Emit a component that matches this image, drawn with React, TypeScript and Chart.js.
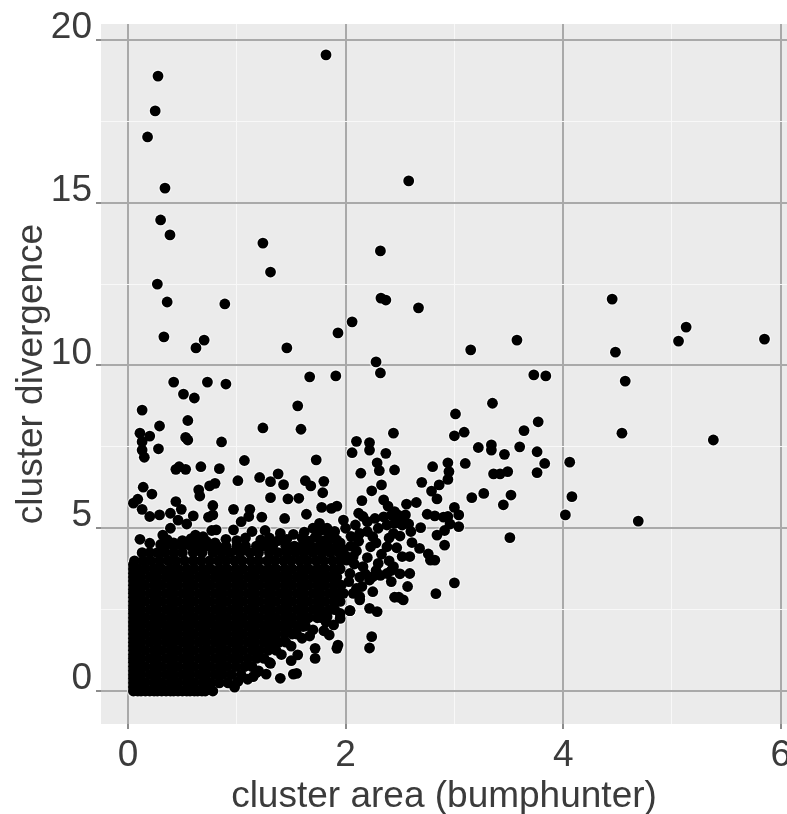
import React, { useEffect, useRef } from "react";
import { Chart, registerables } from "chart.js";

Chart.register(...registerables);

type Pair = [number, number];

const xTickLabels = ["0", "2", "4", "6"];
const yTickLabels = ["0", "5", "10", "15", "20"];
const xTitle = "cluster area (bumphunter)";
const yTitle = "cluster divergence";

// isolated high-divergence clusters
const outlierPoints: Pair[] = [
  [1.82, 19.54], [0.276, 18.89], [0.25, 17.82], [0.18, 17.02], [0.34, 15.45], [2.58, 15.67], [0.3, 14.47],
  [0.386, 14.01], [1.24, 13.76], [2.32, 13.52], [1.31, 12.87], [0.27, 12.5], [0.36, 11.95], [0.89, 11.89],
  [2.325, 12.07], [2.37, 12.01], [2.67, 11.77], [4.45, 12.04], [2.06, 11.34], [1.93, 11.0], [0.33, 10.88],
  [0.7, 10.78], [0.625, 10.54], [1.46, 10.54], [3.15, 10.48], [3.575, 10.78], [4.48, 10.41], [5.06, 10.75],
  [5.13, 11.18], [5.85, 10.81], [2.28, 10.11], [2.32, 9.77], [1.67, 9.65], [1.91, 9.68], [3.73, 9.71],
  [3.84, 9.68], [4.57, 9.52], [0.42, 9.49], [0.73, 9.49], [0.9, 9.43], [0.51, 9.12], [0.61, 9.0],
  [1.56, 8.76], [5.38, 7.71], [4.69, 5.22], [4.54, 7.92],
];

// scattered clusters around the dense cloud, left part
const fringeLeft: Pair[] = [
  [0.13, 8.63], [0.29, 8.14], [0.55, 8.31], [1.24, 8.08], [1.59, 8.04], [0.11, 7.92], [0.2, 7.83], [0.13, 7.66],
  [0.13, 7.4], [0.15, 7.18], [0.28, 7.44], [0.53, 7.79], [0.55, 7.71], [0.86, 7.65], [1.07, 7.08], [1.73, 7.1],
  [0.47, 6.89], [0.44, 6.81], [0.53, 6.81], [0.67, 6.89], [0.84, 6.83], [1.01, 6.46], [1.21, 6.56], [1.38, 6.67],
  [1.31, 6.43], [1.43, 6.34], [1.63, 6.46], [1.68, 6.3], [1.8, 6.44], [1.79, 6.09], [0.8, 6.38], [0.75, 6.3],
  [0.65, 6.18], [0.66, 5.99], [0.14, 6.26], [0.22, 6.05], [0.09, 5.89], [0.05, 5.77], [0.13, 5.58], [0.44, 5.82],
  [0.78, 5.7], [1.31, 5.94], [1.47, 5.9], [1.57, 5.92], [0.97, 5.58], [1.12, 5.58], [1.23, 5.34], [1.44, 5.3],
  [1.64, 5.43], [1.78, 5.64], [1.92, 5.68], [1.87, 5.61], [0.78, 5.41], [0.74, 5.34], [0.2, 5.36], [0.29, 5.41],
  [0.39, 5.46], [0.49, 5.58], [0.6, 5.38], [0.54, 5.13], [0.46, 5.25], [1.04, 5.2], [1.11, 5.36], [0.81, 4.95],
  [0.77, 4.93], [0.97, 4.95], [1.14, 4.9], [1.26, 4.93], [1.4, 4.84], [1.52, 4.81], [0.32, 4.79], [0.39, 5.0],
  [0.62, 4.79], [0.69, 4.74], [0.11, 4.66], [0.2, 4.54], [1.76, 5.15], [1.7, 5.0], [1.83, 5.0], [1.98, 5.25],
  [2.09, 5.1], [2.16, 5.36], [2.12, 5.46], [2.15, 5.85], [2.24, 6.15], [2.33, 6.33], [2.35, 5.87], [2.39, 5.68],
  [2.45, 5.51], [2.44, 7.92], [2.1, 7.67], [2.22, 7.63], [2.22, 7.4], [2.06, 7.32], [2.37, 7.3], [2.29, 7.01],
  [2.31, 6.77], [2.14, 6.69], [2.45, 6.79],
];

// clusters below the cloud's lower right edge
const fringeLower: Pair[] = [
  [2.25, 3.05], [2.49, 2.88], [2.04, 2.47], [2.22, 2.54], [2.29, 2.44], [2.24, 1.67], [2.22, 1.32], [1.93, 1.41],
  [1.92, 1.31], [1.8, 1.85], [1.85, 1.72], [1.67, 1.69], [1.72, 1.31], [1.72, 1.0], [1.56, 1.11], [1.5, 0.93],
  [1.52, 0.52], [1.55, 0.54], [1.4, 0.39], [1.27, 0.52], [1.15, 0.44], [1.18, 0.56], [1.01, 0.29], [0.78, 0.0],
  [1.31, 0.85], [1.61, 1.98], [1.83, 2.28], [1.89, 2.03], [1.95, 2.23], [2.13, 2.8], [2.03, 3.36], [2.1, 3.15],
];

// clusters to the right of the cloud
const fringeRight: Pair[] = [
  [3.35, 8.84], [3.01, 8.51], [3.09, 7.95], [3.0, 7.84], [3.77, 8.27], [3.64, 8.0], [3.22, 7.48], [3.34, 7.56],
  [3.34, 7.4], [3.46, 7.27], [3.6, 7.5], [3.76, 7.35], [3.83, 6.99], [3.76, 6.71], [4.06, 7.03], [3.1, 6.99],
  [2.8, 6.89], [2.94, 7.01], [2.95, 6.74], [2.94, 6.5], [3.36, 6.67], [3.42, 6.67], [3.49, 6.74], [2.7, 6.41],
  [2.86, 6.33], [2.79, 6.14], [2.84, 5.9], [3.16, 5.94], [3.27, 6.07], [3.52, 6.02], [3.45, 5.72], [4.08, 5.97],
  [4.02, 5.41], [3.51, 4.71], [3.0, 3.32], [2.83, 2.99], [2.65, 5.79], [2.56, 5.74], [2.75, 5.43], [2.82, 5.38],
  [3.0, 5.64], [3.04, 5.41], [2.94, 5.36], [2.9, 5.34], [3.04, 5.05], [2.96, 5.13], [2.91, 4.93], [2.84, 4.79],
  [2.91, 4.48], [2.69, 5.02], [2.58, 5.13], [2.5, 4.76], [2.61, 4.56], [2.68, 4.38], [2.76, 4.21], [2.82, 4.02],
  [2.78, 4.02], [2.59, 4.13], [2.59, 3.61], [2.57, 3.21], [2.45, 2.88], [2.53, 2.8], [2.42, 3.36], [2.48, 5.41],
  [2.55, 5.41], [2.3, 5.0], [2.38, 5.1], [2.44, 4.84], [2.25, 4.74], [2.13, 4.84], [2.0, 5.0], [1.92, 4.64],
  [2.23, 4.43], [2.38, 4.43], [2.52, 4.13], [2.07, 4.13], [2.16, 3.82], [2.25, 3.51], [2.38, 3.61], [2.44, 3.82],
  [2.04, 3.61], [2.15, 3.21], [2.01, 4.02], [2.3, 3.92], [2.22, 3.41], [2.13, 2.9], [2.04, 2.47],
  [2.05, 4.45], [2.1, 4.3], [2.12, 4.6], [2.2, 4.9], [2.28, 4.55], [2.33, 4.2], [2.4, 4.0], [2.47, 4.4],
  [2.5, 3.6], [2.32, 3.55], [2.18, 3.6], [2.07, 3.0], [2.13, 3.5], [2.08, 3.9], [2.4, 4.7], [2.45, 5.15],
  [2.52, 5.1], [2.6, 4.9], [2.2, 5.2], [2.27, 5.3], [2.05, 4.75], [2.35, 5.35], [2.5, 5.3], [2.42, 5.4],
  [2.42, 3.7], [2.28, 3.7], [2.2, 4.1],
];

// upper rim of the cloud, where single clusters start to merge
const rimPoints: Pair[] = [
  [0.36, 4.65], [0.5, 4.62], [0.58, 4.68], [0.72, 4.6], [0.9, 4.66], [1.0, 4.62], [1.08, 4.7], [1.22, 4.64],
  [1.3, 4.7], [1.38, 4.62], [1.46, 4.66], [1.6, 4.7], [1.66, 4.6], [1.72, 4.72], [1.8, 4.62], [1.88, 4.7],
  [1.95, 4.55], [1.74, 4.85], [1.78, 4.95], [1.85, 4.8], [1.9, 4.9], [1.62, 4.88], [1.98, 4.35], [2.0, 4.15],
  [0.3, 4.5], [0.42, 4.55], [0.55, 4.55], [0.62, 4.55], [0.8, 4.55],
];

// left and bottom rim of the cloud, clusters of smallest area or divergence
const edgePoints: Pair[] = [
  [0.05, 0.12], [0.05, 0.38], [0.05, 0.62], [0.05, 0.88], [0.05, 1.12], [0.05, 1.38], [0.05, 1.62], [0.05, 1.88],
  [0.05, 2.12], [0.05, 2.38], [0.05, 2.62], [0.05, 2.88], [0.05, 3.12], [0.05, 3.38], [0.05, 3.62], [0.05, 3.88],
  [0.09, 0.0], [0.16, 0.0], [0.24, 0.0], [0.31, 0.0], [0.39, 0.0], [0.46, 0.0], [0.54, 0.0], [0.61, 0.0], [0.68, 0.0],
  [0.98, 0.12], [1.1, 0.36], [1.2, 0.62], [1.3, 0.88], [1.41, 1.12], [1.5, 1.38], [1.6, 1.62], [1.7, 1.88],
  [1.82, 2.12], [1.95, 2.38],
];

// the saturated cloud near the origin, read as bands of divergence with their areas
const denseLevels: number[] = [0, 0.25, 0.5, 0.75, 1, 1.25, 1.5, 1.75, 2, 2.25, 2.5, 2.75, 3, 3.25, 3.5, 3.75, 4, 4.25, 4.45];
const denseAreas: number[][] = [
  [0.05, 0.12, 0.2, 0.27, 0.35, 0.42, 0.5, 0.57, 0.64, 0.71],
  [0.05, 0.09, 0.16, 0.24, 0.31, 0.39, 0.46, 0.54, 0.61, 0.69, 0.76, 0.84, 0.92],
  [0.05, 0.12, 0.2, 0.27, 0.35, 0.42, 0.5, 0.57, 0.65, 0.72, 0.8, 0.87, 0.95, 1.04],
  [0.05, 0.09, 0.16, 0.24, 0.31, 0.39, 0.46, 0.54, 0.61, 0.69, 0.76, 0.84, 0.91, 0.99, 1.07, 1.14],
  [0.05, 0.12, 0.2, 0.27, 0.35, 0.42, 0.5, 0.57, 0.65, 0.72, 0.8, 0.87, 0.95, 1.02, 1.1, 1.18, 1.25],
  [0.05, 0.09, 0.16, 0.24, 0.31, 0.39, 0.46, 0.54, 0.61, 0.69, 0.76, 0.84, 0.91, 0.99, 1.06, 1.14, 1.21, 1.29, 1.36],
  [0.05, 0.12, 0.2, 0.27, 0.35, 0.42, 0.5, 0.57, 0.65, 0.72, 0.8, 0.87, 0.95, 1.02, 1.1, 1.17, 1.25, 1.32, 1.39, 1.45],
  [0.05, 0.09, 0.16, 0.24, 0.31, 0.39, 0.46, 0.54, 0.61, 0.69, 0.76, 0.84, 0.91, 0.99, 1.06, 1.14, 1.21, 1.29, 1.36, 1.44, 1.51, 1.55],
  [0.05, 0.12, 0.2, 0.27, 0.35, 0.42, 0.5, 0.57, 0.65, 0.72, 0.8, 0.87, 0.95, 1.02, 1.1, 1.17, 1.25, 1.32, 1.4, 1.47, 1.55, 1.63],
  [0.05, 0.09, 0.16, 0.24, 0.31, 0.39, 0.46, 0.54, 0.61, 0.69, 0.76, 0.84, 0.91, 0.99, 1.06, 1.14, 1.21, 1.29, 1.36, 1.44, 1.51, 1.59, 1.66, 1.74, 1.78],
  [0.05, 0.12, 0.2, 0.27, 0.35, 0.42, 0.5, 0.57, 0.65, 0.72, 0.8, 0.87, 0.95, 1.02, 1.1, 1.17, 1.25, 1.32, 1.4, 1.47, 1.55, 1.62, 1.7, 1.77, 1.85, 1.9],
  [0.05, 0.09, 0.16, 0.24, 0.31, 0.39, 0.46, 0.54, 0.61, 0.69, 0.76, 0.84, 0.91, 0.99, 1.06, 1.14, 1.21, 1.29, 1.36, 1.44, 1.51, 1.59, 1.66, 1.74, 1.81, 1.89, 1.95],
  [0.05, 0.12, 0.2, 0.27, 0.35, 0.42, 0.5, 0.57, 0.65, 0.72, 0.8, 0.87, 0.95, 1.02, 1.1, 1.17, 1.25, 1.32, 1.4, 1.47, 1.55, 1.62, 1.7, 1.77, 1.85, 1.92, 1.98],
  [0.05, 0.09, 0.16, 0.24, 0.31, 0.39, 0.46, 0.54, 0.61, 0.69, 0.76, 0.84, 0.91, 0.99, 1.06, 1.14, 1.21, 1.29, 1.36, 1.44, 1.51, 1.59, 1.66, 1.74, 1.81, 1.89, 1.96],
  [0.05, 0.12, 0.2, 0.27, 0.35, 0.42, 0.5, 0.57, 0.65, 0.72, 0.8, 0.87, 0.95, 1.02, 1.1, 1.17, 1.25, 1.32, 1.4, 1.47, 1.55, 1.62, 1.7, 1.77, 1.85, 1.92],
  [0.05, 0.09, 0.16, 0.24, 0.31, 0.39, 0.46, 0.54, 0.61, 0.69, 0.76, 0.84, 0.91, 0.99, 1.06, 1.14, 1.21, 1.29, 1.36, 1.44, 1.51, 1.59, 1.66, 1.74, 1.81, 1.89, 1.95],
  [0.06, 0.14, 0.21, 0.29, 0.37, 0.44, 0.52, 0.6, 0.67, 0.75, 0.83, 0.9, 0.98, 1.05, 1.13, 1.2, 1.28, 1.35, 1.43, 1.5, 1.58, 1.65, 1.73, 1.8, 1.88, 1.95],
  [0.13, 0.2, 0.27, 0.34, 0.42, 0.5, 0.6, 0.68, 0.78, 0.86, 0.94, 1.03, 1.12, 1.2, 1.3, 1.38, 1.46, 1.54, 1.62, 1.7, 1.78, 1.86, 1.94],
  [0.34, 0.42, 0.5, 0.58, 0.66, 0.74, 0.82, 0.9, 1.0, 1.08, 1.18, 1.26, 1.33, 1.45, 1.53, 1.6, 1.68, 1.76, 1.84, 1.92],
];

function pairsToPoints(pairs: Pair[]) {
  return pairs.map(([x, y]) => ({ x, y }));
}

export default function App() {
  const ref = useRef<HTMLCanvasElement | null>(null);

  useEffect(() => {
    document.body.style.margin = "0";
    const dense: Pair[] = [];
    denseLevels.forEach((level, i) => denseAreas[i].forEach((a) => dense.push([a, level])));
    const points = pairsToPoints([...dense, ...edgePoints, ...rimPoints, ...fringeLower, ...fringeLeft, ...fringeRight, ...outlierPoints]);

    const panel = {
      id: "panel",
      beforeDraw(chart: any) {
        const { ctx, chartArea: a } = chart;
        ctx.save();
        ctx.fillStyle = "#ebebeb";
        ctx.fillRect(a.left, a.top, a.right - a.left, a.bottom - a.top);
        ctx.restore();
      },
    };

    const labelColor = "#3b3b3b";
    const fontFamily = "'Liberation Sans', Arial, sans-serif";
    const fixBox = (w: number | null, h: number | null) => (s: any) => {
      if (w !== null) s.width = w;
      if (h !== null) s.height = h;
      s.paddingLeft = 0;
      s.paddingRight = 0;
      s.paddingTop = 0;
      s.paddingBottom = 0;
    };

    const chart = new Chart(ref.current as HTMLCanvasElement, {
      type: "scatter",
      data: {
        datasets: [
          {
            data: points,
            order: 1,
            pointRadius: 5.4,
            pointHoverRadius: 5.4,
            pointBackgroundColor: "#000000",
            pointBorderWidth: 0,
          },
          {
            data: points,
            order: 2,
            pointRadius: 6.6,
            pointHoverRadius: 6.6,
            pointBackgroundColor: "rgba(255,255,255,0.6)",
            pointBorderWidth: 0,
          },
        ],
      },
      options: {
        animation: false,
        responsive: false,
        events: [],
        layout: { autoPadding: false, padding: { top: 24, right: 0, left: 0, bottom: 0 } },
        plugins: { legend: { display: false }, tooltip: { enabled: false } },
        scales: {
          x: {
            type: "linear",
            min: -0.248,
            max: 6.057,
            afterFit: fixBox(null, 90),
            border: { display: false },
            grid: {
              drawTicks: true,
              tickLength: 5,
              color: (c: any) => (c.tick.value % 2 === 0 ? "#a9a9a9" : "#f8f8f8"),
              lineWidth: (c: any) => (c.tick.value % 2 === 0 ? 2 : 1),
              tickColor: (c: any) => (c.tick.value % 2 === 0 ? "#666666" : "rgba(0,0,0,0)"),
              tickWidth: 1.5,
            },
            ticks: {
              stepSize: 1,
              autoSkip: false,
              includeBounds: false,
              maxRotation: 0,
              minRotation: 0,
              padding: 5,
              color: labelColor,
              font: { family: fontFamily, size: 37 },
              callback: (v: any) => (Number(v) % 2 === 0 ? xTickLabels[Number(v) / 2] : ""),
            },
            title: {
              display: true,
              text: xTitle,
              color: labelColor,
              font: { family: fontFamily, size: 37 },
              padding: { top: 0, bottom: -5 },
            },
          },
          y: {
            type: "linear",
            min: -1.014,
            max: 20.49,
            afterFit: fixBox(101, null),
            border: { display: false },
            grid: {
              drawTicks: true,
              tickLength: 5,
              color: (c: any) => (c.tick.value % 5 === 0 ? "#a9a9a9" : "#f8f8f8"),
              lineWidth: (c: any) => (c.tick.value % 5 === 0 ? 2 : 1),
              tickColor: (c: any) => (c.tick.value % 5 === 0 ? "#666666" : "rgba(0,0,0,0)"),
              tickWidth: 1.5,
            },
            ticks: {
              stepSize: 2.5,
              autoSkip: false,
              includeBounds: false,
              maxRotation: 0,
              minRotation: 0,
              padding: 4,
              labelOffset: -12,
              color: labelColor,
              font: { family: fontFamily, size: 37 },
              callback: (v: any) => (Number(v) % 5 === 0 ? yTickLabels[Number(v) / 5] : ""),
            },
            title: {
              display: true,
              text: yTitle,
              color: labelColor,
              font: { family: fontFamily, size: 37 },
              padding: { top: 10, bottom: 0 },
            },
          },
        },
      } as any,
      plugins: [panel],
    });
    return () => chart.destroy();
  }, []);

  return <canvas ref={ref} width={787} height={814} style={{ display: "block" }} />;
}
